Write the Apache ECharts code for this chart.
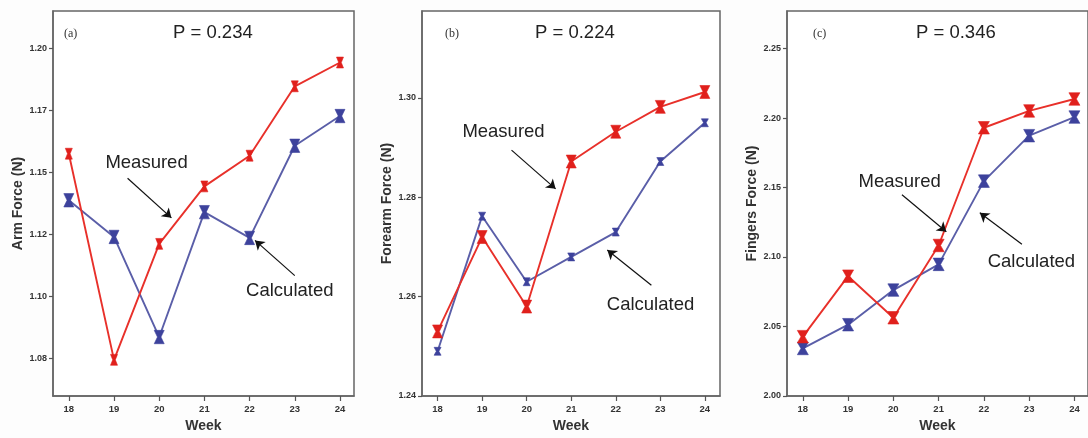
<!DOCTYPE html>
<html>
<head>
<meta charset="utf-8">
<script src="https://cdn.jsdelivr.net/npm/echarts@6/dist/echarts.min.js"></script>
<style>
html,body{margin:0;padding:0;background:#fdfdfd;}
#chart{width:1088px;height:438px;}
</style>
</head>
<body>
<div id="chart"></div>
<script>
// ---- data ----
const weeks = [18, 19, 20, 21, 22, 23, 24];

const armMeasured      = [1.1576, 1.0744, 1.1212, 1.1444, 1.1568, 1.1848, 1.1944];
const armCalculated    = [1.1388, 1.1240, 1.0836, 1.1340, 1.1236, 1.1608, 1.1728];
const armMeasuredErr   = [0.0022, 0.0022, 0.0022, 0.0022, 0.0022, 0.0022, 0.0022];
const armCalculatedErr = [0.0027, 0.0027, 0.0027, 0.0027, 0.0027, 0.0027, 0.0027];

const forearmMeasured      = [1.2530, 1.2720, 1.2580, 1.2872, 1.2932, 1.2982, 1.3012];
const forearmCalculated    = [1.2490, 1.2762, 1.2630, 1.2680, 1.2730, 1.2872, 1.2950];
const forearmMeasuredErr   = [0.0013, 0.0013, 0.0013, 0.0013, 0.0013, 0.0013, 0.0013];
const forearmCalculatedErr = [0.0008, 0.0008, 0.0008, 0.0008, 0.0008, 0.0008, 0.0008];

const fingersMeasured      = [2.0427, 2.0862, 2.0563, 2.1083, 2.1930, 2.2051, 2.2137];
const fingersCalculated    = [2.0342, 2.0513, 2.0762, 2.0947, 2.1546, 2.1873, 2.2007];
const fingersMeasuredErr   = [0.0045, 0.0045, 0.0045, 0.0045, 0.0045, 0.0045, 0.0045];
const fingersCalculatedErr = [0.0045, 0.0045, 0.0045, 0.0045, 0.0045, 0.0045, 0.0045];

const armTicks = [1.075, 1.100, 1.125, 1.150, 1.175, 1.200];
const armTickLabels = ["1.08", "1.10", "1.12", "1.15", "1.17", "1.20"];
const forearmTicks = [1.24, 1.26, 1.28, 1.30];
const forearmTickLabels = ["1.24", "1.26", "1.28", "1.30"];
const fingersTicks = [2.00, 2.05, 2.10, 2.15, 2.20, 2.25];
const fingersTickLabels = ["2.00", "2.05", "2.10", "2.15", "2.20", "2.25"];

const panelLetters = ["(a)", "(b)", "(c)"];
const pValues = ["P = 0.234", "P = 0.224", "P = 0.346"];
const yNames = ["Arm Force (N)", "Forearm Force (N)", "Fingers Force (N)"];

// annotation positions in data coordinates [week, value]
const measuredText   = [[19.72, 1.1537], [19.48, 1.2932], [20.14, 2.1538]];
const measuredFrom   = [[19.30, 1.1477], [19.66, 1.2895], [20.19, 2.1448]];
const measuredTo     = [[20.27, 1.1317], [20.65, 1.2817], [21.17, 2.1182]];
const calculatedText = [[22.89, 1.1022], [22.78, 1.2583], [23.05, 2.0962]];
const calculatedFrom = [[23.00, 1.1084], [22.80, 1.2623], [22.84, 2.1092]];
const calculatedTo   = [[22.12, 1.1226], [21.81, 1.2694], [21.91, 2.1318]];

// ---- layout / style ----
const RED = '#e8302a', RED_MK = '#e0201c';
const BLUE = '#5a5ea8', BLUE_MK = '#3d429c';
const grids = [
  {left: 53,  top: 11, width: 301, height: 389},
  {left: 422, top: 11, width: 298, height: 389},
  {left: 787, top: 11, width: 305, height: 389}
];
const xRanges = [[17.65, 24.31], [17.65, 24.34], [17.65, 24.30]];
const yRanges = [[1.0598, 1.2152], [1.24, 1.3175], [2.00, 2.277]];
const yTicks = [armTicks, forearmTicks, fingersTicks];
const yTickLabels = [armTickLabels, forearmTickLabels, fingersTickLabels];
const measured = [armMeasured, forearmMeasured, fingersMeasured];
const calculated = [armCalculated, forearmCalculated, fingersCalculated];
const measuredErr = [armMeasuredErr, forearmMeasuredErr, fingersMeasuredErr];
const calculatedErr = [armCalculatedErr, forearmCalculatedErr, fingersCalculatedErr];
const redHalfW = [3.5, 5, 5.5];
const blueHalfW = [5, 3.5, 5.5];

function hourglass(errArr, halfW, color) {
  return function (params, api) {
    const x = api.value(0), v = api.value(1);
    const e = errArr[params.dataIndex];
    const t = api.coord([x, v + e]);
    const b = api.coord([x, v - e]);
    const c = api.coord([x, v]);
    const px = c[0];
    const n = Math.max(1.3, halfW * 0.35);
    return {
      type: 'polygon',
      shape: {points: [[px - halfW, t[1]], [px + halfW, t[1]], [px + n, c[1]],
                       [px + halfW, b[1]], [px - halfW, b[1]], [px - n, c[1]]]},
      style: {fill: color, stroke: color, lineWidth: 0.6}
    };
  };
}

const font = '"Liberation Sans", Arial, sans-serif';
const xAxis = [], yAxis = [], series = [], graphic = [];

for (let i = 0; i < 3; i++) {
  xAxis.push({
    type: 'value', gridIndex: i, min: xRanges[i][0], max: xRanges[i][1],
    name: 'Week', nameLocation: 'middle', nameGap: 23,
    nameTextStyle: {fontFamily: font, fontWeight: 'bold', fontSize: 14, color: '#333'},
    axisLine: {show: true, lineStyle: {color: '#666', width: 1.5}},
    axisTick: {show: true, customValues: weeks, length: 5, lineStyle: {color: '#555', width: 1.2}},
    axisLabel: {customValues: weeks, margin: 8, fontFamily: font, fontWeight: 'bold', fontSize: 9.5, color: '#333'},
    splitLine: {show: false}
  });
  const ticks = yTicks[i], labs = yTickLabels[i];
  yAxis.push({
    type: 'value', gridIndex: i, min: yRanges[i][0], max: yRanges[i][1],
    name: yNames[i], nameLocation: 'middle', nameGap: 28, nameRotate: 90,
    nameTextStyle: {fontFamily: font, fontWeight: 'bold', fontSize: 14, color: '#333'},
    axisLine: {show: true, lineStyle: {color: '#666', width: 1.5}},
    axisTick: {show: true, customValues: ticks, length: 4, lineStyle: {color: '#555', width: 1.2}},
    axisLabel: {
      customValues: ticks, margin: 6, fontFamily: font, fontWeight: 'bold', fontSize: 9, color: '#333',
      formatter: function (v) {
        let best = 0;
        for (let k = 1; k < ticks.length; k++) if (Math.abs(ticks[k] - v) < Math.abs(ticks[best] - v)) best = k;
        return labs[best];
      }
    },
    splitLine: {show: false}
  });

  const annoLabel = {show: true, position: 'inside', fontFamily: font, fontSize: 18.5, color: '#222',
                     formatter: function (p) { return p.name; }};
  series.push({
    type: 'line', xAxisIndex: i, yAxisIndex: i, name: 'Calculated',
    data: weeks.map((w, k) => [w, calculated[i][k]]),
    showSymbol: false, lineStyle: {color: BLUE, width: 1.9}, itemStyle: {color: BLUE}, z: 2,
    markLine: {
      silent: true, animation: false,
      symbol: ['none', 'arrow'], symbolSize: [9, 9],
      lineStyle: {color: '#111', width: 1.2, type: 'solid'}, label: {show: false},
      data: [[{coord: calculatedFrom[i]}, {coord: calculatedTo[i]}]]
    },
    markPoint: {
      silent: true, animation: false, symbol: 'circle', symbolSize: 1,
      itemStyle: {color: 'rgba(0,0,0,0)'}, label: annoLabel,
      data: [{name: 'Calculated', coord: calculatedText[i]}]
    }
  });
  series.push({
    type: 'line', xAxisIndex: i, yAxisIndex: i, name: 'Measured',
    data: weeks.map((w, k) => [w, measured[i][k]]),
    showSymbol: false, lineStyle: {color: RED, width: 1.9}, itemStyle: {color: RED}, z: 3,
    markLine: {
      silent: true, animation: false,
      symbol: ['none', 'arrow'], symbolSize: [9, 9],
      lineStyle: {color: '#111', width: 1.2, type: 'solid'}, label: {show: false},
      data: [[{coord: measuredFrom[i]}, {coord: measuredTo[i]}]]
    },
    markPoint: {
      silent: true, animation: false, symbol: 'circle', symbolSize: 1,
      itemStyle: {color: 'rgba(0,0,0,0)'}, label: annoLabel,
      data: [{name: 'Measured', coord: measuredText[i]}]
    }
  });
  series.push({
    type: 'custom', xAxisIndex: i, yAxisIndex: i, z: 4,
    renderItem: hourglass(calculatedErr[i], blueHalfW[i], BLUE_MK),
    data: weeks.map((w, k) => [w, calculated[i][k]])
  });
  series.push({
    type: 'custom', xAxisIndex: i, yAxisIndex: i, z: 5,
    renderItem: hourglass(measuredErr[i], redHalfW[i], RED_MK),
    data: weeks.map((w, k) => [w, measured[i][k]])
  });
}

const letterX = [64, 445, 813];
const pX = [173, 535, 916];
for (let i = 0; i < 3; i++) {
  graphic.push({type: 'text', left: letterX[i], top: 28,
    style: {text: panelLetters[i], font: '12px "Liberation Serif", "DejaVu Serif", serif', fill: '#333'}});
  graphic.push({type: 'text', left: pX[i], top: 23,
    style: {text: pValues[i], font: '18.5px "Liberation Sans", Arial, sans-serif', fill: '#222'}});
}

const chart = echarts.init(document.getElementById('chart'), null, {renderer: 'canvas'});
chart.setOption({
  animation: false,
  backgroundColor: '#fdfdfd',
  grid: grids.map(g => Object.assign({show: true, borderColor: '#666', borderWidth: 1.5, backgroundColor: '#fff'}, g)),
  xAxis: xAxis,
  yAxis: yAxis,
  series: series,
  graphic: graphic
});
</script>
</body>
</html>
